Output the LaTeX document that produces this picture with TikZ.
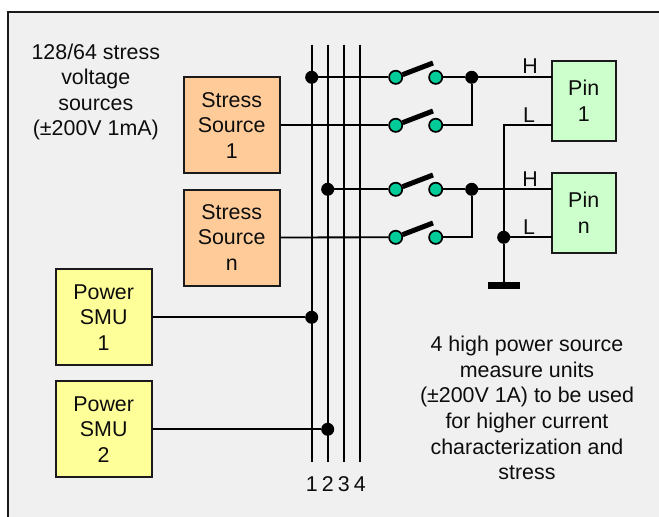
\documentclass[tikz,border=0pt]{standalone}
\usepackage{fontspec}
\setmainfont{Liberation Sans}
\definecolor{framebg}{HTML}{F0F0F0}
\definecolor{stressfill}{HTML}{FFCC99}
\definecolor{smufill}{HTML}{FFFF99}
\definecolor{pinfill}{HTML}{CCFFCC}
\definecolor{swfill}{HTML}{00CC99}
\definecolor{edge}{HTML}{1A1A1A}
\tikzset{
  x=1pt,y=-1pt,
  txt/.style={font=\fontsize{21.4}{25.6}\selectfont,align=center,inner sep=0pt,text=black!95},
  unitbox/.style={txt,draw=edge,line width=2pt,minimum width=96pt,text width=90pt},
  stressbox/.style={unitbox,fill=stressfill,minimum height=96pt},
  smubox/.style={unitbox,fill=smufill,minimum height=96pt},
  pinbox/.style={unitbox,fill=pinfill,minimum width=64pt,text width=60pt,minimum height=79.5pt},
  wire/.style={draw=black,line width=1.8pt},
  buswire/.style={draw=black,line width=2pt},
  contact/.style={circle,draw=black,line width=1.7pt,fill=swfill,inner sep=0pt,minimum size=13.2pt},
  dot/.style={circle,fill=black,inner sep=0pt,minimum size=13pt},
  blade/.style={draw=black,line width=5pt},
}
\begin{document}
\begin{tikzpicture}
\useasboundingbox (0,0) rectangle (659,517);
\clip (0,0) rectangle (659,517);
\draw[draw=edge,line width=2pt,fill=framebg] (7.5,11.5) rectangle (680,540);

% bus ends
\foreach \n/\x in {1/311.7,2/327.7,3/343.7,4/359.7}{
  \coordinate (bus\n t) at (\x,44.5);
  \coordinate (bus\n b) at (\x,462);
}
% boxes
\node[stressbox] (stress1) at (231.7,125.3) {Stress\\Source\\1};
\node[stressbox] (stressn) at (231.7,237.5) {Stress\\Source\\n};
\node[smubox] (smu1) at (103.7,317.3) {Power\\SMU\\1};
\node[smubox] (smu2) at (103.7,429.3) {Power\\SMU\\2};
\node[pinbox] (pin1) at (583.7,101) {Pin\\1};
\node[pinbox] (pinn) at (583.7,213) {Pin\\n};

% switches
\foreach \n/\y in {1/77.3,2/125.3,3/189.3,4/237.3}{
  \node[contact] (swl\n) at (395.7,\y) {};
  \node[contact] (swr\n) at (435.7,\y) {};
  \coordinate (tip\n) at (433,\y-14.3);
  \draw[blade] (swl\n) -- (tip\n);
}
% dots
\node[dot] (d1) at (311.7,77.3) {};
\node[dot] (d2) at (327.7,189.3) {};
\node[dot] (j1) at (471.7,77.3) {};
\node[dot] (j2) at (471.7,189.3) {};
\node[dot] (gj) at (503.7,237.3) {};
\node[dot] (d3) at (311.7,317.3) {};
\node[dot] (d4) at (327.7,429.3) {};

% pin anchors
\coordinate (pin1h) at (551.5,77.3);
\coordinate (pin1l) at (551.5,125.3);
\coordinate (pinnh) at (551.5,189.3);
\coordinate (pinnl) at (551.5,237.3);
\coordinate (lcorner) at (503.7,125.3);
\coordinate (gnd) at (503.7,285);

% buses
\foreach \n in {1,2,3,4}{ \draw[buswire] (bus\n t) -- (bus\n b); }

% horizontal wires
\draw[wire] (d1) -- (swl1);
\draw[wire] (d2) -- (swl3);
\draw[wire] (stress1) -- (swl2);
\draw[wire] (stressn) -- (swl4);
\draw[wire] (smu1) -- (d3);
\draw[wire] (smu2) -- (d4);
\draw[wire] (swr1) -- (j1);
\draw[wire] (swr3) -- (j2);
\draw[wire] (swr2) -| (j1);
\draw[wire] (swr4) -| (j2);
\draw[wire] (j1) -- (pin1h);
\draw[wire] (j2) -- (pinnh);
\draw[wire] (pin1l) -- (lcorner) -- (gj);
\draw[wire] (gj) -- (pinnl);
\draw[wire] (gj) -- (gnd);
\node[fill=black,minimum width=32pt,minimum height=7.5pt,inner sep=0pt] (gbar) at (503.7,285.3) {};

% labels
\node[txt] (hl1) at (530,66.5) {H};
\node[txt] (ll1) at (529,115) {L};
\node[txt] (hl2) at (530,179) {H};
\node[txt] (ll2) at (529,227) {L};
\node[txt] (n1) at (311.7,484.5) {1};
\node[txt] (n2) at (327.7,484.5) {2};
\node[txt] (n3) at (343.7,484.5) {3};
\node[txt] (n4) at (359.7,484.5) {4};
\node[txt] (srcnote) at (95.8,92) {128/64 stress\\voltage\\sources\\(±200V 1mA)};
\node[txt] (smunote) at (527,408) {4 high power source\\measure units\\(±200V 1A) to be used\\for higher current\\characterization and\\stress};
\end{tikzpicture}
\end{document}
